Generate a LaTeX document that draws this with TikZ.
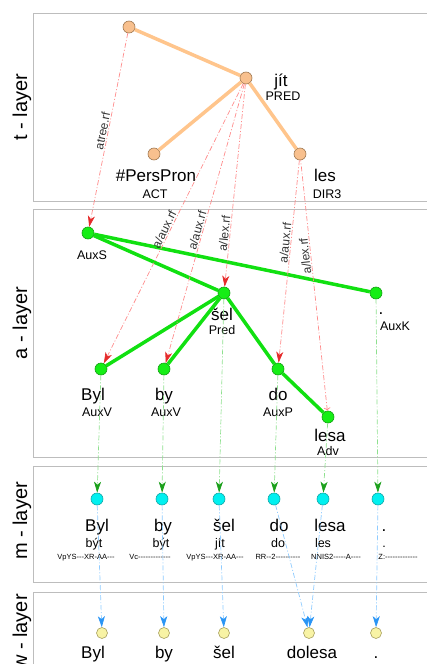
\documentclass[tikz,border=0pt]{standalone}
\usepackage{fontspec}
\setmainfont{Liberation Sans}
\newfontfamily\tagfont{Liberation Sans}[Ligatures=TeXOff]
\usetikzlibrary{arrows.meta}

\definecolor{boxgray}{HTML}{BDBDBD}
\definecolor{tfill}{HTML}{F8C08E}
\definecolor{tdraw}{HTML}{A07850}
\definecolor{tline}{HTML}{FFC58C}
\definecolor{afill}{HTML}{15EE15}
\definecolor{adraw}{HTML}{12A012}
\definecolor{aline}{HTML}{11E011}
\definecolor{mfill}{HTML}{00F0F0}
\definecolor{mdraw}{HTML}{10A8A8}
\definecolor{wfill}{HTML}{F8F3A5}
\definecolor{wdraw}{HTML}{A8A060}
\definecolor{tlinkc}{HTML}{FF8A8A}
\definecolor{tlinktip}{HTML}{E52B2B}
\definecolor{alinkc}{HTML}{8EE08E}
\definecolor{alinktip}{HTML}{1BA01B}
\definecolor{mlinkc}{HTML}{8ECBFF}
\definecolor{mlinktip}{HTML}{2A95F5}
\definecolor{reltext}{HTML}{333333}

\begin{document}
\begin{tikzpicture}[x=1pt, y=-1pt,
    layer/.style={draw=boxgray, line width=0.8pt},
    layername/.style={rotate=90, inner sep=0pt, font=\fontsize{20}{24}\selectfont},
    tnode/.style={circle, draw=tdraw, fill=tfill, minimum size=12pt, inner sep=0pt, line width=0.6pt},
    anode/.style={tnode, draw=adraw, fill=afill},
    mnode/.style={tnode, draw=mdraw, fill=mfill},
    wnode/.style={tnode, draw=wdraw, fill=wfill, minimum size=11pt},
    word/.style={anchor=base, inner sep=0pt, font=\fontsize{17}{20}\selectfont},
    func/.style={anchor=base, inner sep=0pt, font=\fontsize{12.5}{15}\selectfont},
    tag/.style={anchor=base, inner sep=0pt, font=\tagfont\fontsize{7.5}{9}\selectfont},
    tedge/.style={tline, line width=3.5pt},
    aedge/.style={aline, line width=3.5pt},
    link/.style={line width=0.7pt, dash pattern=on 5pt off 2pt on 1pt off 2pt},
    tlink/.style={link, tlinkc, -{Stealth[length=11pt, width=7pt, inset=3pt, color=tlinktip]}},
    alink/.style={link, alinkc, -{Stealth[length=11pt, width=7pt, inset=3pt, color=alinktip]}},
    mlink/.style={link, mlinkc, -{Stealth[length=11pt, width=7pt, inset=3pt, color=mlinktip]}},
    rel/.style={sloped, above, inner sep=1pt, text=reltext, font=\fontsize{12}{14}\selectfont}
  ]
  \useasboundingbox (0,0) rectangle (427,664);

  % layer frames
  \draw[layer] (33,13) rectangle (440,201);
  \draw[layer] (33,209) rectangle (440,457);
  \draw[layer] (33,466) rectangle (440,582);
  \draw[layer] (33,592) rectangle (440,690);
  \node[layername] (tname) at (22,107) {t - layer};
  \node[layername] (aname) at (22,323) {a - layer};
  \node[layername] (mname) at (22,521) {m - layer};
  \node[layername] (wname) at (22,632) {w - layer};

  % t-layer
  \node[tnode] (troot) at (129,27) {};
  \node[tnode] (tjit) at (246,78) {};
  \node[tnode] (tpers) at (154,154) {};
  \node[tnode] (tles) at (300,154) {};
  \node[word] (tjit-w) at (281,86) {jít};
  \node[func] (tjit-f) at (283,100) {PRED};
  \node[word] (tpers-w) at (156,181) {\#PersPron};
  \node[func] (tpers-f) at (155,198) {ACT};
  \node[word] (tles-w) at (325,181) {les};
  \node[func] (tles-f) at (327,198) {DIR3};
  \draw[tedge] (troot) -- (tjit);
  \draw[tedge] (tjit) -- (tpers);
  \draw[tedge] (tjit) -- (tles);

  % a-layer
  \node[anode] (auxs) at (88,233) {};
  \node[anode] (asel) at (224,293) {};
  \node[anode] (auxk) at (376,293) {};
  \node[anode] (abyl) at (101,369) {};
  \node[anode] (aby) at (164,369) {};
  \node[anode] (ado) at (278,369) {};
  \node[anode] (alesa) at (328,417) {};
  \node[func] (auxs-f) at (92,259) {AuxS};
  \node[word] (asel-w) at (222,320) {šel};
  \node[func] (asel-f) at (222,334) {Pred};
  \node[word] (auxk-w) at (381,314) {.};
  \node[func] (auxk-f) at (395,330) {AuxK};
  \node[word] (abyl-w) at (93,400) {Byl};
  \node[func] (abyl-f) at (97,416) {AuxV};
  \node[word] (aby-w) at (164,400) {by};
  \node[func] (aby-f) at (166,416) {AuxV};
  \node[word] (ado-w) at (278,400) {do};
  \node[func] (ado-f) at (278,416) {AuxP};
  \node[word] (alesa-w) at (330,441) {lesa};
  \node[func] (alesa-f) at (328,455) {Adv};
  \draw[aedge] (auxs) -- (asel);
  \draw[aedge] (auxs) -- (auxk);
  \draw[aedge] (asel) -- (abyl);
  \draw[aedge] (asel) -- (aby);
  \draw[aedge] (asel) -- (ado);
  \draw[aedge] (ado) -- (alesa);

  % m-layer
  \node[mnode] (m1) at (97,499) {};
  \node[mnode] (m2) at (162,499) {};
  \node[mnode] (m3) at (219,499) {};
  \node[mnode] (m4) at (274,499) {};
  \node[mnode] (m5) at (323,499) {};
  \node[mnode] (m6) at (378,499) {};
  \node[word] (m1-w) at (97,531) {Byl};
  \node[word] (m2-w) at (163,531) {by};
  \node[word] (m3-w) at (224,531) {šel};
  \node[word] (m4-w) at (279,531) {do};
  \node[word] (m5-w) at (330,531) {lesa};
  \node[word] (m6-w) at (384,531) {.};
  \node[func] (m1-l) at (94,547) {být};
  \node[func] (m2-l) at (161,547) {být};
  \node[func] (m3-l) at (220,547) {jít};
  \node[func] (m4-l) at (278,547) {do};
  \node[func] (m5-l) at (323,547) {les};
  \node[func] (m6-l) at (384,547) {.};
  \node[tag] (m1-t) at (86,559) {VpYS---XR-AA---};
  \node[tag] (m2-t) at (150,559) {Vc-------------};
  \node[tag] (m3-t) at (215,559) {VpYS---XR-AA---};
  \node[tag] (m4-t) at (278,559) {RR--2----------};
  \node[tag] (m5-t) at (336,559) {NNIS2-----A----};
  \node[tag] (m6-t) at (398,559) {Z:-------------};

  % w-layer
  \node[wnode] (w1) at (102,633) {};
  \node[wnode] (w2) at (164,633) {};
  \node[wnode] (w3) at (224,633) {};
  \node[wnode] (w4) at (309,633) {};
  \node[wnode] (w5) at (376,633) {};
  \node[word] (w1-w) at (93,658) {Byl};
  \node[word] (w2-w) at (164,658) {by};
  \node[word] (w3-w) at (224,658) {šel};
  \node[word] (w4-w) at (312,658) {dolesa};
  \node[word] (w5-w) at (376,658) {.};

  % t -> a references
  \draw[tlink] (troot) -- node[rel, pos=0.51] {atree.rf} (auxs);
  \draw[tlink] (tjit) -- node[rel, pos=0.53] {a/aux.rf} (abyl);
  \draw[tlink] (tjit) -- node[rel, pos=0.53] {a/aux.rf} (aby);
  \draw[tlink] (tjit) -- node[rel, pos=0.74] {a/lex.rf} (asel);
  \draw[tlink] (tles) -- node[rel, pos=0.41] {a/aux.rf} (ado);
  \draw[tlink, <-] (alesa) -- node[rel, pos=0.62, allow upside down] {a/lex.rf} (tles);

  % a -> m references
  \draw[alink] (abyl) -- (m1);
  \draw[alink] (aby) -- (m2);
  \draw[alink] (asel) -- (m3);
  \draw[alink] (ado) -- (m4);
  \draw[alink] (alesa) -- (m5);
  \draw[alink] (auxk) -- (m6);

  % m -> w references
  \draw[mlink] (m1) -- (w1);
  \draw[mlink] (m2) -- (w2);
  \draw[mlink] (m3) -- (w3);
  \draw[mlink] (m4) -- (w4);
  \draw[mlink] (m5) -- (w4);
  \draw[mlink] (m6) -- (w5);
\end{tikzpicture}
\end{document}
